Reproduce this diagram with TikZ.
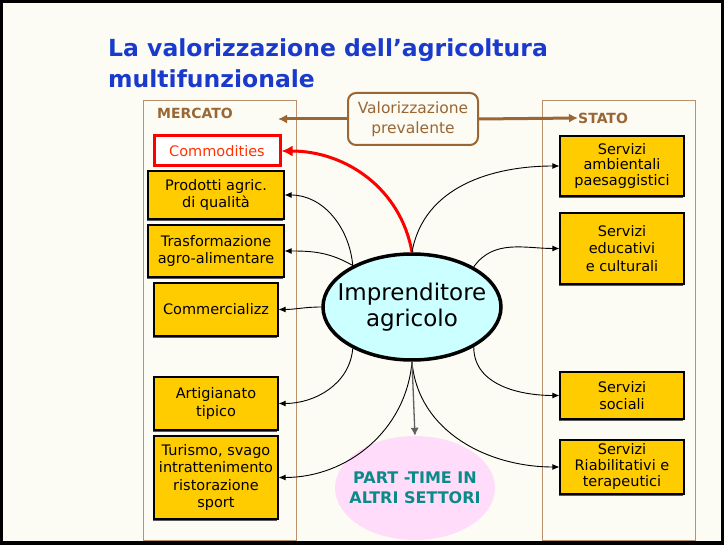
\documentclass[tikz,border=0pt]{standalone}
\usepackage{fontspec}
\setmainfont{DejaVu Sans}
\usetikzlibrary{arrows.meta,shapes.geometric,shadows}
\definecolor{bgcol}{HTML}{FCFCF5}
\definecolor{titleblue}{HTML}{1A3ACC}
\definecolor{mktbrown}{HTML}{9A6634}
\definecolor{panelbrown}{HTML}{B8906C}
\definecolor{boxyellow}{HTML}{FFCC00}
\definecolor{impcyan}{HTML}{CCFFFF}
\definecolor{ptpink}{HTML}{FFDDFA}
\definecolor{ptteal}{HTML}{0A8A88}
\definecolor{comred}{HTML}{FF3300}
\tikzset{
  yellowbox/.style={draw=black,line width=1.1pt,fill=boxyellow,align=center,inner sep=2pt,
    font=\fontsize{14.5}{17.5}\selectfont,
    drop shadow={shadow xshift=-1pt,shadow yshift=-2pt,fill=black!65,opacity=1}},
  link/.style={line width=0.9pt,-{Latex[length=7pt,width=6pt]}},
  brownarrow/.style={draw=mktbrown,line width=3pt,-{Latex[length=9pt,width=9pt]}},
  paneltitle/.style={text=mktbrown,font=\bfseries\fontsize{14}{16}\selectfont},
  titleline/.style={anchor=base west,inner sep=0pt,text=titleblue,font=\bfseries\fontsize{23.5}{28}\selectfont},
}
\begin{document}
\begin{tikzpicture}[x=1pt,y=-1pt]
    \useasboundingbox (0,0) rectangle (724,545);
    %% frame
    \fill[black] (0,0) rectangle (724,545);
    \fill[bgcol] (3,3) rectangle (721,541);
    %% title
    \node[titleline] (title1) at (108,57) {La valorizzazione dell'agricoltura};
    \node[titleline] (title2) at (108,88) {multifunzionale};
    %% panels
    \draw[panelbrown,line width=1pt] (143,101) rectangle (296,541);
    \draw[panelbrown,line width=1pt] (542,101) rectangle (695,541);
    \node[paneltitle] (mercato) at (195,113) {MERCATO};
    \node[paneltitle,anchor=west,inner sep=0pt] (stato) at (578,118) {STATO};
    %% valorizzazione
    \node[draw=mktbrown,line width=2pt,rounded corners=8pt,fill=bgcol,minimum width=130pt,minimum height=52pt,
        align=center,text=mktbrown,font=\fontsize{15.5}{20}\selectfont] (val) at (413,119) {Valorizzazione\\prevalente};
    \coordinate (mkt) at (278,119);
    \draw[brownarrow] (val.west) -- (mkt);
    \draw[brownarrow] (val.east) -- (stato.west);
    %% mercato boxes
    \node[draw=red,line width=3pt,fill=white,text=comred,minimum width=126pt,minimum height=30pt,
        font=\fontsize{14.5}{17}\selectfont] (comm) at (217,151) {Commodities};
    \node[yellowbox,minimum width=136pt,minimum height=48pt] (prod) at (216,195) {Prodotti agric.\\di qualità};
    \node[yellowbox,minimum width=136pt,minimum height=52pt] (trasf) at (216,251) {Trasformazione\\agro-alimentare};
    \node[yellowbox,minimum width=124pt,minimum height=53pt] (commerc) at (216,309.5) {Commercializz};
    \node[yellowbox,minimum width=124pt,minimum height=53pt] (artig) at (216,403.5) {Artigianato\\tipico};
    \node[yellowbox,minimum width=124pt,minimum height=83pt] (turismo) at (216,477.5) {Turismo, svago\\intrattenimento\\ristorazione\\sport};
    %% stato boxes
    \node[yellowbox,minimum width=124pt,minimum height=60pt,font=\fontsize{14.5}{15.5}\selectfont] (amb) at (622,166) {Servizi\\ambientali\\paesaggistici};
    \node[yellowbox,minimum width=124pt,minimum height=71pt] (educ) at (622,248.5) {Servizi\\educativi\\e culturali};
    \node[yellowbox,minimum width=124pt,minimum height=47pt] (soc) at (622,395.5) {Servizi\\sociali};
    \node[yellowbox,minimum width=124pt,minimum height=54pt,font=\fontsize{14.5}{16}\selectfont] (riab) at (622,467) {Servizi\\Riabilitativi e\\terapeutici};
    %% ellipses
    \node[ellipse,draw=black,line width=3.5pt,fill=impcyan,minimum width=178pt,minimum height=106pt,
        label={[align=center,font=\fontsize{23}{26}\selectfont]center:{Imprenditore\\agricolo}}] (imp) at (412,307) {};
    \node[ellipse,fill=ptpink,minimum width=160pt,minimum height=104pt,
        label={[align=center,text=ptteal,font=\bfseries\fontsize{16}{20}\selectfont]center:{PART -TIME IN\\ALTRI SETTORI}}] (part) at (415,488) {};
    %% links
    \draw[red,line width=3pt,-{Latex[length=11pt,width=11pt]}] (imp.90) to[out=100,in=0] (comm.east);
    \draw[link] (imp.90) to[out=80,in=180] (amb.west);
    \draw[link] (imp.145) to[out=95,in=0] (prod.east);
    \draw[link] (imp.145) to[out=150,in=0] (trasf.east);
    \draw[link] (imp.west) to[out=180,in=0] (commerc.east);
    \draw[link] (imp.215) to[out=-95,in=0] (artig.east);
    \draw[link] (imp.270) to[out=-95,in=0] (turismo.east);
    \draw[link] (imp.33) to[out=55,in=180] (educ.west);
    \draw[link] (imp.327) to[out=-90,in=180] (soc.west);
    \draw[link] (imp.270) to[out=-85,in=180] (riab.west);
    \draw[gray!75!black,line width=1.3pt,-{Latex[length=8pt,width=8pt]}] (imp.south) -- (part.north);
\end{tikzpicture}
\end{document}
